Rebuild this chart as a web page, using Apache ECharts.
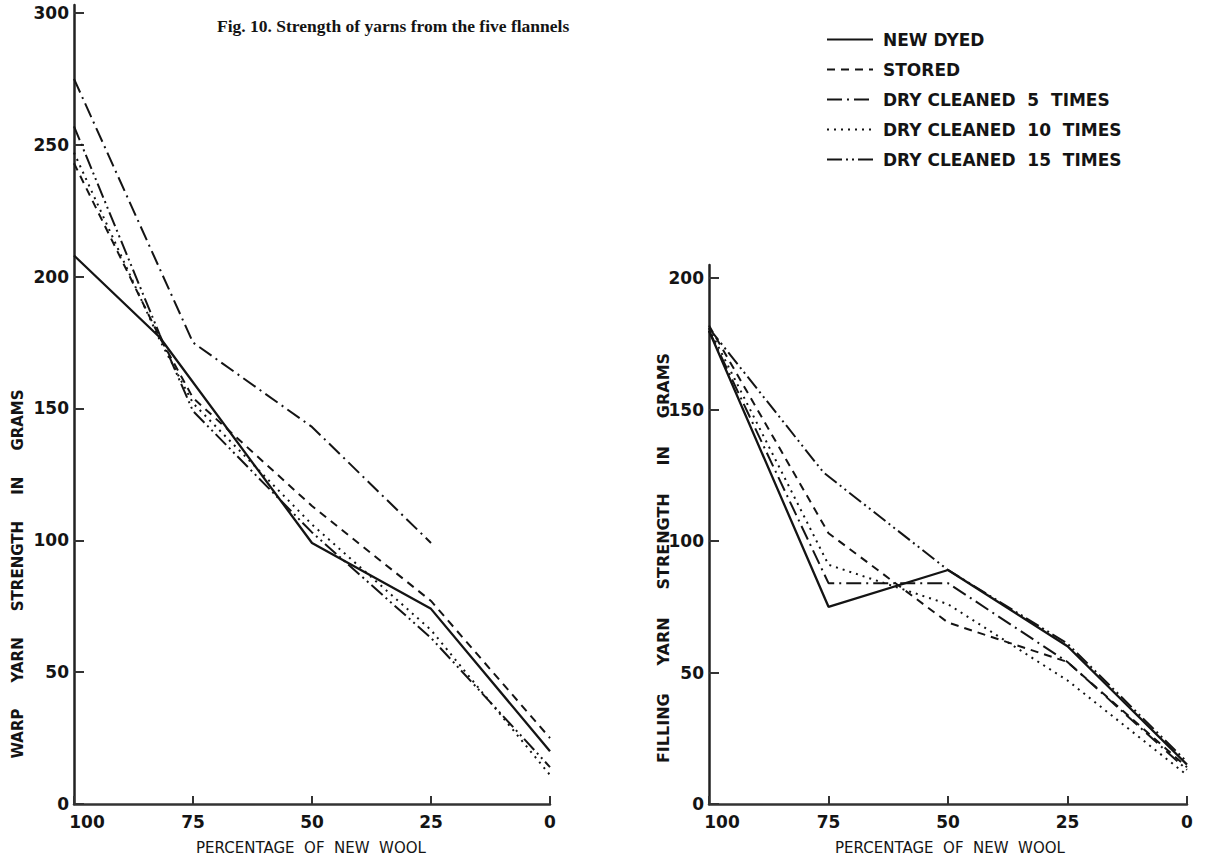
<!DOCTYPE html>
<html>
<head>
<meta charset="utf-8">
<title>Fig. 10. Strength of yarns from the five flannels</title>
<script src="https://cdn.jsdelivr.net/npm/echarts@6/dist/echarts.min.js"></script>
<style>
  html, body { margin: 0; padding: 0; background: #fff; }
  #chart { width: 1206px; height: 864px; }
</style>
</head>
<body>
<div id="chart"></div>
<script>
const seriesNames = ['NEW DYED', 'STORED', 'DRY CLEANED 5 TIMES', 'DRY CLEANED 10 TIMES', 'DRY CLEANED 15 TIMES'];
const xTicks = [100, 75, 50, 25, 0];
const warpTicks = [0, 50, 100, 150, 200, 250, 300];
const fillingTicks = [0, 50, 100, 150, 200];

// warp yarns, [percentage of new wool, grams]
const warpNewDyed = [[100, 208], [82, 177], [50, 99], [25, 74], [0, 20]];
const warpStored = [[100, 243], [82, 177], [75, 154], [50, 113], [25, 77], [0, 25]];
const warpDry5 = [[100, 275], [75, 175], [50, 143], [25, 99]];
const warpDry10 = [[100, 247], [82, 176], [75, 152], [50, 106], [25, 66], [0, 11]];
const warpDry15 = [[100, 257], [82, 178], [75, 149], [50, 103], [25, 63], [0, 14]];

// filling yarns
const fillNewDyed = [[100, 180], [75, 75], [50, 89], [25, 60], [0, 15]];
const fillStored = [[100, 182], [75, 103], [50, 69], [25, 54], [0, 14]];
const fillDry5 = [[100, 180], [75, 84], [50, 84], [25, 54], [0, 13]];
const fillDry10 = [[100, 181], [75, 91], [50, 76], [25, 47], [0, 11]];
const fillDry15 = [[100, 181], [76, 126], [50, 89], [25, 61], [0, 16]];

const dashes = {
  'NEW DYED': 'solid',
  'STORED': [8, 6],
  'DRY CLEANED 5 TIMES': [15, 5, 2, 5],
  'DRY CLEANED 10 TIMES': [2, 5],
  'DRY CLEANED 15 TIMES': [15, 4, 2, 4, 2, 4]
};

const chart = echarts.init(document.getElementById('chart'), null, { renderer: 'svg' });

const ink = '#141414';
const sans = 'DejaVu Sans';

function makeX(gridIndex) {
  return {
    type: 'value', gridIndex, inverse: true, min: 0, max: 100, interval: 25,
    axisLine: { onZero: false, lineStyle: { color: '#333', width: 2.5 } },
    axisTick: { inside: true, length: 8, lineStyle: { color: '#333', width: 2 }, customValues: xTicks },
    axisLabel: {
      color: ink, fontFamily: sans, fontWeight: 'bold', fontSize: 17, margin: 9, customValues: xTicks,
      // the "100" sits just right of the corner, as in the original
      formatter: v => (v === 100 ? '{f|100}' : String(v)),
      rich: { f: { padding: [0, 0, 0, 26], fontFamily: sans, fontWeight: 'bold', fontSize: 17, color: ink } }
    },
    splitLine: { show: false }
  };
}

function makeY(gridIndex, max, ticks) {
  return {
    type: 'value', gridIndex, position: 'left', min: 0, max, interval: 50,
    axisLine: { show: true, onZero: false, lineStyle: { color: '#222', width: 2.5 } },
    axisTick: { show: true, inside: true, length: 10, lineStyle: { color: '#333', width: 2 }, customValues: ticks },
    axisLabel: { color: ink, fontFamily: sans, fontWeight: 'bold', fontSize: 17, margin: 5, customValues: ticks },
    splitLine: { show: false }
  };
}

function makeSeries(name, data, idx) {
  return {
    name, type: 'line', data, xAxisIndex: idx, yAxisIndex: idx,
    symbol: 'none', showSymbol: false,
    lineStyle: { color: ink, width: name === 'NEW DYED' ? 2.3 : 2, type: dashes[name] },
    itemStyle: { color: ink },
    emphasis: { disabled: true }
  };
}

const warpData = [warpNewDyed, warpStored, warpDry5, warpDry10, warpDry15];
const fillData = [fillNewDyed, fillStored, fillDry5, fillDry10, fillDry15];

const option = {
  backgroundColor: '#fff',
  animation: false,
  title: {
    text: 'Fig. 10. Strength of yarns from the five flannels',
    left: 212, top: 12,
    textStyle: { fontFamily: 'Liberation Serif', fontWeight: 'bold', fontSize: 17.5, color: ink }
  },
  legend: {
    data: seriesNames,
    orient: 'vertical', left: 821, top: 26,
    itemWidth: 46, itemHeight: 16, itemGap: 13,
    itemStyle: { color: 'transparent', borderWidth: 0, opacity: 0 },
    formatter: n => n.replace(/ (\d+) /, '  $1  '),
    textStyle: { fontFamily: sans, fontWeight: 'bold', fontSize: 17, color: ink, lineHeight: 16, padding: [0, 0, 0, 5] },
    selectedMode: false
  },
  grid: [
    { left: 74, top: 5, width: 476, height: 799 },
    { left: 709, top: 265, width: 478, height: 539 }
  ],
  xAxis: [makeX(0), makeX(1)],
  yAxis: [makeY(0, 303, warpTicks), makeY(1, 205, fillingTicks)],
  series: seriesNames.map((n, i) => makeSeries(n, warpData[i], 0))
    .concat(seriesNames.map((n, i) => makeSeries(n, fillData[i], 1))),
  graphic: [
    {
      type: 'text', x: 18, y: 574, rotation: Math.PI / 2,
      style: { text: 'WARP     YARN     STRENGTH     IN     GRAMS', fill: ink, font: 'bold 15px "DejaVu Sans"', align: 'center', verticalAlign: 'middle' }
    },
    {
      type: 'text', x: 663, y: 558, rotation: Math.PI / 2,
      style: { text: 'FILLING     YARN     STRENGTH     IN     GRAMS', fill: ink, font: 'bold 16px "DejaVu Sans"', align: 'center', verticalAlign: 'middle' }
    },
    {
      type: 'text', x: 311, y: 848,
      style: { text: 'PERCENTAGE  OF  NEW  WOOL', fill: ink, font: '15px "DejaVu Sans"', align: 'center', verticalAlign: 'middle' }
    },
    {
      type: 'text', x: 950, y: 848,
      style: { text: 'PERCENTAGE  OF  NEW  WOOL', fill: ink, font: '15px "DejaVu Sans"', align: 'center', verticalAlign: 'middle' }
    }
  ]
};

chart.setOption(option);
</script>
</body>
</html>
